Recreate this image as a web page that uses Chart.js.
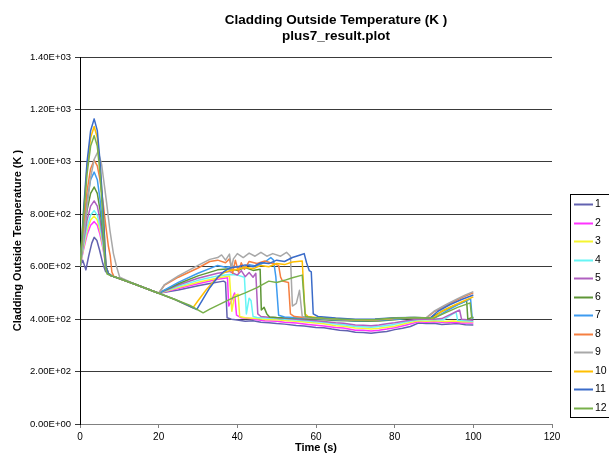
<!DOCTYPE html>
<html><head><meta charset="utf-8">
<script src="https://cdn.jsdelivr.net/npm/chart.js@4.4.1/dist/chart.umd.min.js"></script>
<style>html,body{margin:0;padding:0;background:#fff;overflow:hidden}</style>
</head><body>
<canvas id="c" width="609" height="460"></canvas>
<script>
const titleLines = ['Cladding Outside Temperature (K )', 'plus7_result.plot'];
const xTitle = 'Time (s)';
const yTitle = 'Cladding Outside Temperature (K )';
const yTickLabels = ['0.00E+00','2.00E+02','4.00E+02','6.00E+02','8.00E+02','1.00E+03','1.20E+03','1.40E+03'];
const seriesNames = ['1','2','3','4','5','6','7','8','9','10','11','12'];
const seriesColors = ['#6262B0','#FF33FF','#F5F530','#66F5F5','#B060C0','#5E9636','#3D9BF0','#F57F40','#A8A8A8','#FFBF00','#3A6BC9','#78B04A'];

const t1 = [0,0.7,1.5,2.2,3.0,3.6,4.3,5.0,5.8,6.5, 7.2,8,10,14,17,20,25,30,33,36.5, 37,37.4,38.5,40,42,44,46,48,50,52, 55,57,60,62,64,66,68,70,72,74, 76,78,80,82,84,86,88,90,92,94, 96,98,100];
const v1 = [600,625,588,640,690,712,700,662,612,582, 572,565,555,533,516,499,511,527,536,545, 540,405,400,397,392,394,388,386,383,381, 376,374,368,367,362,358,356,350,349,346, 350,353,360,365,372,385,383,384,380,381, 383,379,378];

const t2 = [0,0.9,1.8,2.7,3.6,4.4,5.1,5.9,6.6,7.2, 8,10,14,17,20,25,30,35,37.5,37.8, 38.5,39.3,39.8,41,43,45,47,50,52,55, 58,60,62,65,67,70,72,74,76,78, 80,83,86,88,90,93,95,97,100];
const v2 = [600,665,722,758,772,758,722,665,600,575, 565,555,533,516,499,517,535,552,558,450, 470,500,415,405,402,398,394,392,388,385, 380,377,374,368,366,358,358,355,358,362, 367,378,390,388,390,387,388,385,385];

const t3 = [0,0.9,1.8,2.7,3.6,4.4,5.1,5.9,6.6,7.2, 8,10,14,17,20,25,30,35,38,38.6, 39.3,40.2,40.6,42,45,47,50,52,55,58, 60,62,65,67,70,72,74,76,78,80, 83,86,88,90,93,95,97,100];
const v3 = [600,673,737,778,793,778,737,673,600,575, 565,555,533,516,499,521,541,557,565,430, 490,495,410,405,402,399,398,395,392,388, 385,382,375,373,366,365,362,365,369,373, 384,394,392,394,391,393,390,390];

const t4 = [0,0.9,1.8,2.7,3.6,4.4,5.1,5.9,6.6,7.2, 8,10,14,17,20,25,30,35,38,40, 41.8,42.3,43,43.5,44,45,47,50,52,55, 58,60,62,65,67,70,72,74,76,78, 80,83,86,90,92.5,95.6,96,98,100];
const v4 = [600,681,752,797,814,797,752,681,600,575, 565,555,533,516,499,525,548,565,570,568, 560,420,480,470,410,406,404,402,400,397, 393,390,388,381,379,372,371,369,372,376, 380,390,398,398,398,428,396,394,392];

const t5 = [0,0.9,1.8,2.7,3.6,4.4,5.1,5.9,6.6,7.2, 8,10,14,17,20,25,30,35,38,40, 41,42,43,44,44.7,45.2,46,48,50,52, 55,58,60,62,65,67,70,72,74,76, 78,80,83,86,90,92,96.5,97,100];
const v5 = [600,695,778,831,851,831,778,695,600,575, 565,555,533,516,499,530,556,575,582,568, 585,562,578,560,575,420,410,407,405,403, 400,397,394,391,386,384,378,377,375,378, 382,386,394,400,400,402,435,400,396];

const t6 = [0,0.9,1.8,2.7,3.6,4.4,5.1,5.9,6.6,7.2, 8,10,14,17,20,25,30,35,38,40, 42,44,45.8,46.1,46.8,47.5,48.2,50,52,55, 58,60,63,65,68,70,73,76,80,83, 86,89,92,95,98.3,98.6,100];
const v6 = [600,716,816,880,904,880,816,716,600,575, 565,555,533,516,499,535,565,588,592,586, 597,586,590,435,445,420,408,406,405,403, 401,400,397,395,394,392,392,393,398,402, 404,404,430,450,470,400,408];

const t7 = [0,0.9,1.8,2.7,3.6,4.4,5.1,5.9,6.6,7.2, 8,10,14,17,20,25,30,35,37,39, 41,43,45,47,48.5,49.2,49.8,50.5,52,55, 60,65,70,73,76,80,84,88,90,93, 96,99.3,99.7,100];
const v7 = [600,737,856,932,961,932,856,737,600,575, 565,555,533,516,499,540,575,605,598,602, 596,608,602,618,635,625,560,415,408,405, 402,398,394,395,396,400,404,404,404,430, 455,478,405,402];

const t8 = [0,0.9,1.8,2.7,3.6,4.4,5.1,5.9,6.6,7.2, 7.7,8.1,8.6,10,14,17,20,21.5,25,30, 33,35,37,38,38.8,39.5,40.3,41,41.8,43, 45,47,49,50.5,51,51.5,53,53.5,54.5,57, 60,65,70,75,80,84,88,90,93,96, 98,100];
const v8 = [600,755,889,974,1007,985,930,840,750,680, 640,580,563,555,533,516,499,530,560,595, 620,625,615,630,575,625,580,615,590,620, 612,622,612,605,560,545,540,420,410,406, 404,400,396,397,402,405,404,428,452,475, 488,500];

const t9 = [0,0.9,1.8,2.7,3.6,4.6,5.5,6.2,6.8,7.6, 8.5,9.3,10.1,14,17,20,21.5,25,30,33, 35,36,37,38,38.5,39,40,41.5,43,44.5, 46,47.5,49,51,52.5,53.5,54,55,55.8,56.5, 58,60,65,70,75,80,84,88,90,93, 96,98,100];
const v9 = [600,700,830,940,1010,1040,990,910,840,740, 650,600,560,533,516,499,532,565,605,628, 635,645,625,648,595,630,650,635,652,640, 655,640,650,640,655,640,450,460,510,410, 406,404,400,397,398,403,406,405,430,455, 478,492,505];

const t10 = [0,0.9,1.8,2.7,3.6,4.4,5.1,5.9,6.6,7.2, 8,10,14,17,20,24,28.7,30,32,34, 36.4,38,40,42,44,46,48,50,52,54, 56.5,57.2,58,60,65,70,75,80,85,89.5, 92,95,98,100];
const v10 = [600,803,980,1092,1135,1092,980,803,600,575, 565,555,533,516,499,476,443,470,510,545, 576,585,590,598,592,605,600,612,608,618, 622,420,410,406,402,398,399,403,405,402, 430,452,472,485];

const t11 = [0,0.9,1.8,2.7,3.6,4.4,5.1,5.9,6.6,7.2, 8,10,14,17,20,24,29.7,31,33,35, 36.5,38,40,42,44,46,48,50,52,54, 56,57,57.6,58.3,58.8,59.3,60.5,65,70,75, 80,85,89,91,94,97,100];
const v11 = [600,814,1000,1119,1164,1119,1000,814,600,575, 565,555,533,516,499,476,437,470,520,560, 580,595,600,607,600,615,612,625,620,635, 645,650,615,585,580,420,410,404,400,401, 405,406,404,430,455,475,492];

const t12 = [0,0.9,1.8,2.7,3.6,4.4,5.1,5.8,6.4,6.9, 8,10,14,17,20,24,28,31.3,33,36, 39,42,45,48,50,52,54,56.5,57.3,59, 62,65,70,75,80,85,90,93,96,99.2, 99.6,100];
const v12 = [600,790,955,1060,1100,1060,955,790,600,572, 565,555,533,516,499,476,452,424,438,460, 482,500,520,545,540,548,558,568,410,406, 403,401,398,399,404,406,404,425,445,462, 405,405];

const seriesTimes = [t1,t2,t3,t4,t5,t6,t7,t8,t9,t10,t11,t12];
const seriesValues = [v1,v2,v3,v4,v5,v6,v7,v8,v9,v10,v11,v12];

const FONT = '"Liberation Sans", Arial, sans-serif';

const datasets = seriesNames.map((name, i) => ({
  label: name,
  data: seriesTimes[i].map((t, j) => ({x: t, y: seriesValues[i][j]})),
  borderColor: seriesColors[i],
  backgroundColor: seriesColors[i],
  borderWidth: 1.5,
  pointRadius: 0,
  fill: false,
  tension: 0,
  order: seriesNames.length - i
}));

const titlePlugin = {
  id: 'refTitle',
  afterDraw(chart) {
    const ctx = chart.ctx;
    ctx.save();
    ctx.fillStyle = '#000';
    ctx.font = 'bold 13.5px ' + FONT;
    ctx.textAlign = 'center';
    ctx.textBaseline = 'alphabetic';
    ctx.fillText(titleLines[0], 336, 23.5);
    ctx.fillText(titleLines[1], 336, 39.5);
    ctx.restore();
  }
};

const legendPlugin = {
  id: 'refLegend',
  afterDraw(chart) {
    const ctx = chart.ctx;
    ctx.save();
    ctx.fillStyle = '#fff';
    ctx.fillRect(570, 194, 45, 223);
    ctx.strokeStyle = '#000';
    ctx.lineWidth = 1;
    ctx.strokeRect(570.5, 194.5, 45, 223);
    ctx.font = '10.5px ' + FONT;
    ctx.textBaseline = 'middle';
    ctx.textAlign = 'left';
    chart.data.datasets.forEach((ds, i) => {
      const y = Math.round(204 + i * 18.5) + 0.5;
      ctx.strokeStyle = ds.borderColor;
      ctx.lineWidth = 2;
      ctx.beginPath(); ctx.moveTo(574, y); ctx.lineTo(593, y); ctx.stroke();
      ctx.fillStyle = '#000';
      ctx.fillText(ds.label, 595, y);
    });
    ctx.restore();
  }
};

new Chart(document.getElementById('c'), {
  type: 'line',
  data: { datasets },
  plugins: [titlePlugin, legendPlugin],
  options: {
    responsive: false,
    animation: false,
    devicePixelRatio: 1,
    layout: { padding: { top: 57, right: 57, bottom: 0, left: 0 } },
    plugins: { legend: { display: false }, title: { display: false }, tooltip: { enabled: false } },
    elements: { line: { borderJoinStyle: 'round' } },
    scales: {
      x: {
        type: 'linear', min: 0, max: 120,
        afterFit(scale) { scale.height = 36; },
        ticks: { stepSize: 20, color: '#000', font: { family: FONT, size: 10 }, padding: 3, maxRotation: 0 },
        grid: { drawOnChartArea: false, drawTicks: true, tickLength: 4, color: '#808080' },
        border: { display: true, color: '#808080', width: 1 },
        title: { display: true, text: xTitle, color: '#000', font: { family: FONT, size: 11, weight: 'bold' }, padding: { top: 0, bottom: 5 } }
      },
      y: {
        type: 'linear', min: 0, max: 1400,
        afterFit(scale) { scale.width = 80; },
        ticks: { stepSize: 200, color: '#000', font: { family: FONT, size: 9.5 }, padding: 4,
          callback: (v) => yTickLabels[Math.round(v / 200)] },
        grid: { drawOnChartArea: true, drawTicks: true, tickLength: 5, color: '#3a3a3a' },
        border: { display: true, color: '#000', width: 1 },
        title: { display: true, text: yTitle, color: '#000', font: { family: FONT, size: 11, weight: 'bold' }, padding: { top: 11, bottom: 0 } }
      }
    }
  }
});
</script>
</body></html>
